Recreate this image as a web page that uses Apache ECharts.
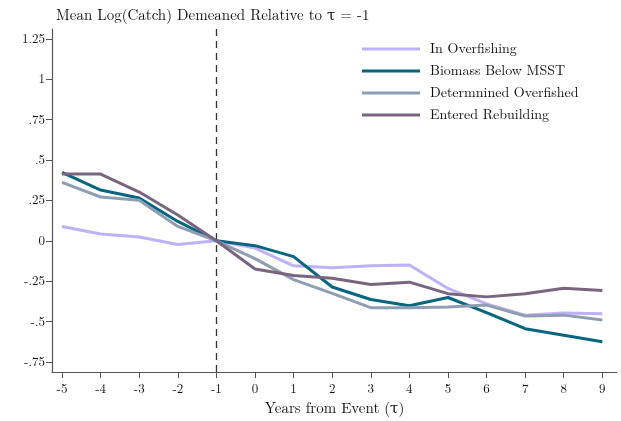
<!DOCTYPE html>
<html>
<head>
<meta charset="utf-8">
<script src="https://cdn.jsdelivr.net/npm/echarts@6/dist/echarts.min.js"></script>
<style>
  html, body { margin: 0; padding: 0; background: #fff; }
  #chart { width: 621px; height: 421px; }
</style>
</head>
<body>
<div id="chart"></div>
<script>
// Years relative to the event (tau)
const years = [-5, -4, -3, -2, -1, 0, 1, 2, 3, 4, 5, 6, 7, 8, 9];

// Mean log catch, demeaned relative to tau = -1
const inOverfishing      = [0.088, 0.042, 0.024, -0.023, 0, -0.045, -0.155, -0.167, -0.155, -0.15, -0.295, -0.39, -0.46, -0.447, -0.452];
const biomassBelowMSST   = [0.423, 0.314, 0.265, 0.12, 0, -0.03, -0.098, -0.286, -0.363, -0.402, -0.351, -0.445, -0.544, -0.585, -0.625];
const determinedOverfish = [0.362, 0.271, 0.251, 0.089, 0, -0.11, -0.24, -0.325, -0.414, -0.414, -0.41, -0.398, -0.465, -0.46, -0.49];
const enteredRebuilding  = [0.413, 0.413, 0.302, 0.16, 0, -0.175, -0.215, -0.232, -0.27, -0.256, -0.327, -0.347, -0.327, -0.293, -0.307];

const yTicks = [-0.75, -0.5, -0.25, 0, 0.25, 0.5, 0.75, 1, 1.25];
const seriesNames = ['In Overfishing', 'Biomass Below MSST', 'Determnined Overfished', 'Entered Rebuilding'];
const seriesValues = [inOverfishing, biomassBelowMSST, determinedOverfish, enteredRebuilding];
const colors = ['#bfb1f7', '#07657f', '#8e9fb3', '#7a6581'];

const serif = '"Latin Modern Roman", "CMU Serif", "DejaVu Serif", serif';

function fmtY(v) {
  if (v === 0) return '0';
  let s = String(v);
  return s.replace(/^0\./, '.').replace(/^-0\./, '-.');
}

const chart = echarts.init(document.getElementById('chart'), null, { renderer: 'canvas' });

const series = seriesNames.map((name, i) => ({
  name: name,
  type: 'line',
  data: years.map((x, j) => [x, seriesValues[i][j]]),
  symbol: 'none',
  lineStyle: { color: colors[i], width: 3 },
  itemStyle: { color: colors[i] },
  z: 3 + i,
  animation: false
}));

// Reference line at tau = -1
series.push({
  type: 'line',
  data: [],
  markLine: {
    silent: true,
    symbol: 'none',
    label: { show: false },
    lineStyle: { color: '#333', type: [7, 5], width: 1.3 },
    data: [{ xAxis: -1 }],
    animation: false
  }
});

chart.setOption({
  backgroundColor: '#fff',
  animation: false,
  title: {
    text: 'Mean Log(Catch) Demeaned Relative to τ = -1',
    left: 51,
    top: 3,
    textStyle: { fontFamily: serif, fontSize: 15, fontWeight: 'normal', color: '#111' }
  },
  legend: {
    data: seriesNames,
    orient: 'vertical',
    left: 362,
    top: 38,
    padding: 0,
    icon: 'rect',
    itemWidth: 58,
    itemHeight: 3,
    itemGap: 0,
    textStyle: { fontFamily: serif, fontSize: 14, color: '#111', lineHeight: 22, padding: [0, 0, 0, 5] }
  },
  grid: { left: 52, right: 4, top: 29, bottom: 43, containLabel: false },
  xAxis: {
    type: 'value',
    min: -5.26,
    max: 9.38,
    name: 'Years from Event (τ)',
    nameLocation: 'middle',
    nameGap: 29,
    nameTextStyle: { fontFamily: serif, fontSize: 15, color: '#111' },
    axisLine: { onZero: false, lineStyle: { color: '#555', width: 1.2 } },
    axisTick: { length: 6, lineStyle: { color: '#555' }, customValues: years },
    axisLabel: { customValues: years, fontFamily: serif, fontSize: 13, color: '#111', margin: 11 },
    splitLine: { show: false }
  },
  yAxis: {
    type: 'value',
    min: -0.812,
    max: 1.311,
    axisLine: { show: true, onZero: false, lineStyle: { color: '#555', width: 1.2 } },
    axisTick: { show: true, length: 6, lineStyle: { color: '#555' }, customValues: yTicks },
    axisLabel: { customValues: yTicks, formatter: fmtY, fontFamily: serif, fontSize: 13, color: '#111', margin: 7 },
    splitLine: { show: false }
  },
  series: series
});
</script>
</body>
</html>
